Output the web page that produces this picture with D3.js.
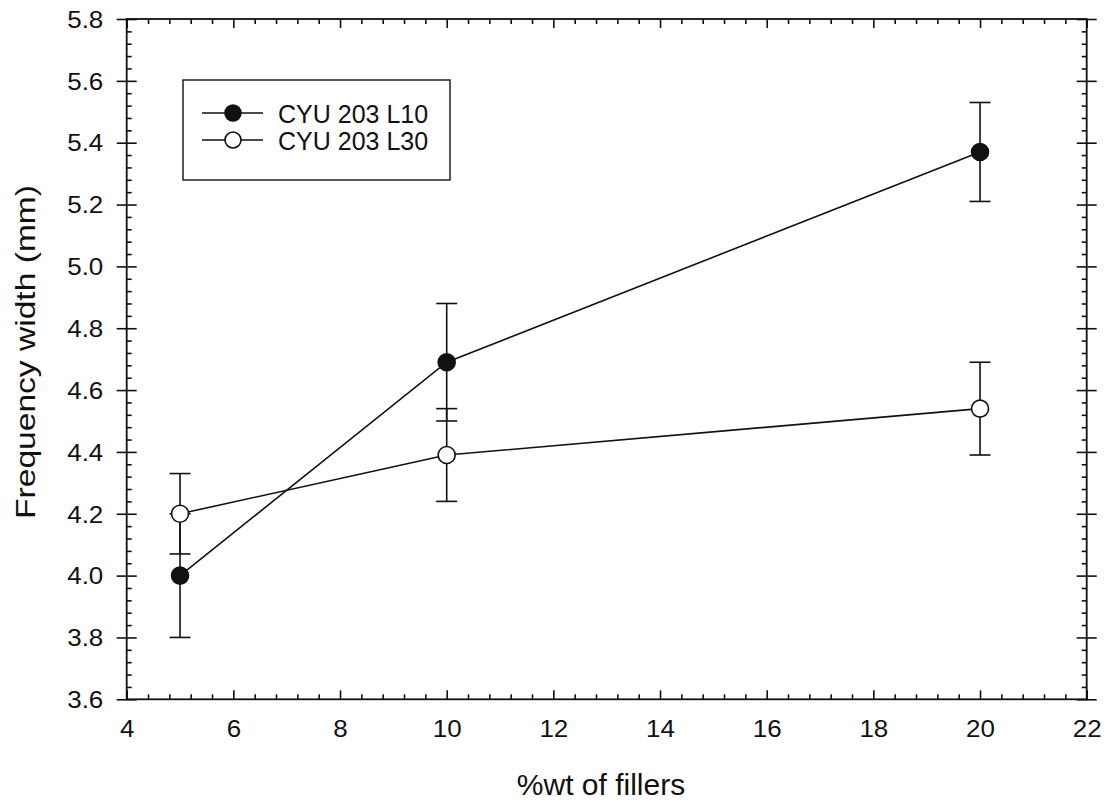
<!DOCTYPE html>
<html>
<head>
<meta charset="utf-8">
<script src="https://cdn.jsdelivr.net/npm/d3@7"></script>
<style>
  html, body { margin: 0; padding: 0; background: #fff; }
  svg { display: block; font-family: "Liberation Sans", Arial, sans-serif; }
</style>
</head>
<body>
<svg id="chart" width="1112" height="805"></svg>
<script>
// ---- data ----
const xValues = [5, 10, 20];
const seriesNames = ["CYU 203 L10", "CYU 203 L30"];
const l10Mean = [4.00, 4.69, 5.37];
const l10Low  = [3.80, 4.50, 5.21];
const l10High = [4.20, 4.88, 5.53];
const l30Mean = [4.20, 4.39, 4.54];
const l30Low  = [4.07, 4.24, 4.39];
const l30High = [4.33, 4.54, 4.69];
const xTicks = [4, 6, 8, 10, 12, 14, 16, 18, 20, 22];
const yTicks = [3.6, 3.8, 4.0, 4.2, 4.4, 4.6, 4.8, 5.0, 5.2, 5.4, 5.6, 5.8];
const xTitle = "%wt of fillers";
const yTitle = "Frequency width (mm)";

(function () {
// ---- layout ----
const L = 126.7, R = 1086.7, T = 19, B = 699.3;
const svg = d3.select("#chart");
const x = d3.scaleLinear().domain([4, 22]).range([L, R]);
const y = d3.scaleLinear().domain([3.6, 5.8]).range([B, T]);

const xMinor = d3.range(4, 22.0001, 0.4).filter(v => Math.abs(v / 2 - Math.round(v / 2)) > 1e-6);
const yMinor = d3.range(3.6, 5.8001, 0.04).filter(v => Math.abs(v / 0.2 - Math.round(v / 0.2)) > 1e-6);

const g = svg.append("g");
const stroke = "#111";
const tickFont = 23, tickStretch = 1.13;

// frame
g.append("rect").attr("x", L).attr("y", T).attr("width", R - L).attr("height", B - T)
  .attr("fill", "none").attr("stroke", stroke).attr("stroke-width", 1.8);

// bottom axis
const axBottom = g.append("g").attr("transform", `translate(0,${B})`)
  .call(d3.axisBottom(x).tickValues(xTicks).tickFormat(d3.format("d")).tickSizeInner(-9).tickSizeOuter(0));
const axBottomMinor = g.append("g").attr("transform", `translate(0,${B})`)
  .call(d3.axisBottom(x).tickValues(xMinor).tickFormat("").tickSizeInner(-5).tickSizeOuter(0));
// top axis
const axTop = g.append("g").attr("transform", `translate(0,${T})`)
  .call(d3.axisTop(x).tickValues(xTicks).tickFormat("").tickSizeInner(-9).tickSizeOuter(0));
const axTopMinor = g.append("g").attr("transform", `translate(0,${T})`)
  .call(d3.axisTop(x).tickValues(xMinor).tickFormat("").tickSizeInner(-5).tickSizeOuter(0));
// left axis (crossing major ticks)
const axLeft = g.append("g").attr("transform", `translate(${L},0)`)
  .call(d3.axisLeft(y).tickValues(yTicks).tickFormat(d3.format(".1f")).tickSizeInner(10).tickSizeOuter(0));
axLeft.selectAll(".tick line").attr("x1", 10);
const axLeftMinor = g.append("g").attr("transform", `translate(${L},0)`)
  .call(d3.axisLeft(y).tickValues(yMinor).tickFormat("").tickSizeInner(-5).tickSizeOuter(0));
// right axis
const axRight = g.append("g").attr("transform", `translate(${R},0)`)
  .call(d3.axisRight(y).tickValues(yTicks).tickFormat("").tickSizeInner(10).tickSizeOuter(0));
axRight.selectAll(".tick line").attr("x1", -10);
const axRightMinor = g.append("g").attr("transform", `translate(${R},0)`)
  .call(d3.axisRight(y).tickValues(yMinor).tickFormat("").tickSizeInner(-5).tickSizeOuter(0));

[axBottom, axBottomMinor, axTop, axTopMinor, axLeft, axLeftMinor, axRight, axRightMinor].forEach(a => {
  a.select(".domain").remove();
  a.selectAll(".tick line").attr("stroke", stroke).attr("stroke-width", 1.6);
  a.selectAll("text").attr("fill", "#111").style("font-size", tickFont + "px")
    .style("font-family", '"Liberation Sans", Arial, sans-serif');
});
// tick label placement (slightly wide lettering as in the reference)
axBottom.selectAll(".tick text").attr("y", 37.7).attr("dy", 0)
  .attr("transform", `scale(${tickStretch},1)`);
axLeft.selectAll(".tick text").attr("x", -23.4 / tickStretch).attr("dy", "0.36em")
  .attr("transform", `scale(${tickStretch},1)`);

// titles
svg.append("text").attr("transform", "translate(601,795)").attr("text-anchor", "middle")
  .style("font-size", "30px").attr("fill", "#111").text(xTitle);
svg.append("text").attr("transform", "translate(35,352) rotate(-90) scale(1.2,1)").attr("text-anchor", "middle")
  .style("font-size", "28px").attr("fill", "#111").text(yTitle);

// series
const series = [
  { name: seriesNames[0], mean: l10Mean, low: l10Low, high: l10High, fill: "#111" },
  { name: seriesNames[1], mean: l30Mean, low: l30Low, high: l30High, fill: "#fff" }
];
const line = d3.line().x(d => x(d.x)).y(d => y(d.m));
const cap = 10.5, r = 8.5;

series.forEach(s => {
  const pts = xValues.map((xv, i) => ({ x: xv, m: s.mean[i], lo: s.low[i], hi: s.high[i] }));
  const sg = g.append("g");
  pts.forEach(p => {
    sg.append("line").attr("x1", x(p.x)).attr("x2", x(p.x)).attr("y1", y(p.lo)).attr("y2", y(p.hi))
      .attr("stroke", stroke).attr("stroke-width", 1.6);
    [p.lo, p.hi].forEach(v => sg.append("line").attr("x1", x(p.x) - cap).attr("x2", x(p.x) + cap)
      .attr("y1", y(v)).attr("y2", y(v)).attr("stroke", stroke).attr("stroke-width", 1.6));
  });
  sg.append("path").datum(pts).attr("d", line).attr("fill", "none").attr("stroke", stroke).attr("stroke-width", 1.6);
  s.pts = pts;
});
series.forEach(s => {
  g.append("g").selectAll("circle").data(s.pts).join("circle")
    .attr("cx", d => x(d.x)).attr("cy", d => y(d.m)).attr("r", r)
    .attr("fill", s.fill).attr("stroke", stroke).attr("stroke-width", 1.6);
});

// legend
const lg = svg.append("g");
lg.append("rect").attr("x", 183).attr("y", 80).attr("width", 267).attr("height", 100)
  .attr("fill", "#fff").attr("stroke", stroke).attr("stroke-width", 1.4);
series.forEach((s, i) => {
  const yy = 113 + i * 27;
  lg.append("line").attr("x1", 202).attr("x2", 263).attr("y1", yy).attr("y2", yy)
    .attr("stroke", stroke).attr("stroke-width", 1.6);
  lg.append("circle").attr("cx", 233).attr("cy", yy).attr("r", 8)
    .attr("fill", s.fill).attr("stroke", stroke).attr("stroke-width", 1.6);
  lg.append("text").attr("x", 278).attr("y", yy + 9.5).style("font-size", "25px").attr("fill", "#111").text(s.name);
});
})();
</script>
</body>
</html>
